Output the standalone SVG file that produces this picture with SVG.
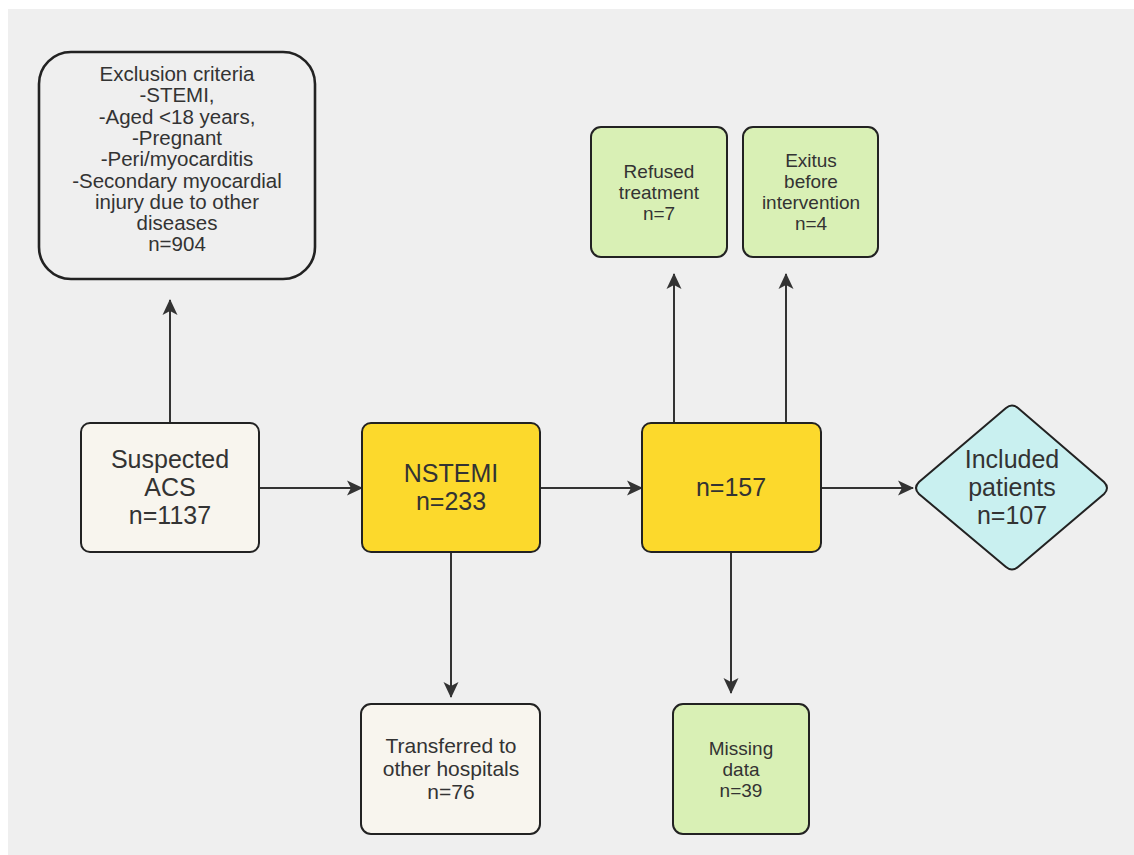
<svg xmlns="http://www.w3.org/2000/svg" width="1134" height="855" viewBox="0 0 1134 855">
<defs>
<style>
.box{stroke:#222;stroke-width:2}
.t{font-family:"Liberation Sans",Arial,sans-serif;fill:#333;text-anchor:middle}
.s20{font-size:20.5px}
.s25{font-size:25px}
.s19{font-size:19px}
.s21{font-size:21px}
.conn{stroke:#333;stroke-width:2;fill:none}
</style>
<marker id="ah" markerUnits="userSpaceOnUse" markerWidth="18" markerHeight="18" viewBox="0 0 18 18" refX="16" refY="9" orient="auto">
<path d="M1,1.5 L17,9 L1,16.5 L5,9 Z" fill="#333"/>
</marker>
</defs>
<rect x="0" y="0" width="1134" height="855" fill="#ffffff"/>
<rect x="8" y="9" width="1126" height="846" fill="#efefef"/>

<g id="connectors">
<line class="conn" x1="170" y1="423" x2="170" y2="300" marker-end="url(#ah)"/>
<line class="conn" x1="259" y1="488" x2="362" y2="488" marker-end="url(#ah)"/>
<line class="conn" x1="540" y1="488" x2="642" y2="488" marker-end="url(#ah)"/>
<line class="conn" x1="821" y1="488" x2="913" y2="488" marker-end="url(#ah)"/>
<line class="conn" x1="451" y1="552" x2="451" y2="697" marker-end="url(#ah)"/>
<line class="conn" x1="674" y1="423" x2="674" y2="274" marker-end="url(#ah)"/>
<line class="conn" x1="786" y1="423" x2="786" y2="274" marker-end="url(#ah)"/>
<line class="conn" x1="731" y1="552" x2="731" y2="693" marker-end="url(#ah)"/>
</g>

<g id="exclusion">
<rect x="39" y="52" width="276" height="227" rx="32" ry="32" fill="#efefef" stroke="#222" stroke-width="2.6"/>
<text class="t s20" x="177" y="81">Exclusion criteria</text>
<text class="t s20" x="177" y="102.3">-STEMI,</text>
<text class="t s20" x="177" y="123.6">-Aged &lt;18 years,</text>
<text class="t s20" x="177" y="144.9">-Pregnant</text>
<text class="t s20" x="177" y="166.2">-Peri/myocarditis</text>
<text class="t s20" x="177" y="187.5">-Secondary myocardial</text>
<text class="t s20" x="177" y="208.8">injury due to other</text>
<text class="t s20" x="177" y="230.1">diseases</text>
<text class="t s20" x="177" y="251.4">n=904</text>
</g>

<g id="suspected">
<rect class="box" x="81" y="423" width="178" height="129" rx="9" fill="#f8f5ee"/>
<text class="t s25" x="170" y="468">Suspected</text>
<text class="t s25" x="170" y="496">ACS</text>
<text class="t s25" x="170" y="524">n=1137</text>
</g>

<g id="nstemi">
<rect class="box" x="362" y="423" width="178" height="129" rx="9" fill="#fcd92c"/>
<text class="t s25" x="451" y="482">NSTEMI</text>
<text class="t s25" x="451" y="510">n=233</text>
</g>

<g id="n157">
<rect class="box" x="642" y="423" width="179" height="129" rx="9" fill="#fcd92c"/>
<text class="t s25" x="731" y="496">n=157</text>
</g>

<g id="included">
<path class="box" fill="#c9f0f0" d="M1006,408 Q1012,403 1018,408 L1104,482 Q1110,488 1104,494 L1018,567 Q1012,572 1006,567 L919,494 Q913,488 919,482 Z"/>
<text class="t s25" x="1012" y="468">Included</text>
<text class="t s25" x="1012" y="496">patients</text>
<text class="t s25" x="1012" y="524">n=107</text>
</g>

<g id="refused">
<rect class="box" x="591" y="127" width="136" height="130" rx="10" fill="#d9f0b5"/>
<text class="t s19" x="659" y="178">Refused</text>
<text class="t s19" x="659" y="199">treatment</text>
<text class="t s19" x="659" y="220">n=7</text>
</g>

<g id="exitus">
<rect class="box" x="743" y="127" width="135" height="130" rx="10" fill="#d9f0b5"/>
<text class="t s19" x="811" y="167">Exitus</text>
<text class="t s19" x="811" y="188">before</text>
<text class="t s19" x="811" y="209">intervention</text>
<text class="t s19" x="811" y="230">n=4</text>
</g>

<g id="transferred">
<rect class="box" x="361" y="704" width="179" height="130" rx="10" fill="#f8f5ee"/>
<text class="t s21" x="451" y="753">Transferred to</text>
<text class="t s21" x="451" y="776">other hospitals</text>
<text class="t s21" x="451" y="799">n=76</text>
</g>

<g id="missing">
<rect class="box" x="673" y="704" width="136" height="130" rx="10" fill="#d9f0b5"/>
<text class="t s19" x="741" y="755">Missing</text>
<text class="t s19" x="741" y="776">data</text>
<text class="t s19" x="741" y="797">n=39</text>
</g>
</svg>
